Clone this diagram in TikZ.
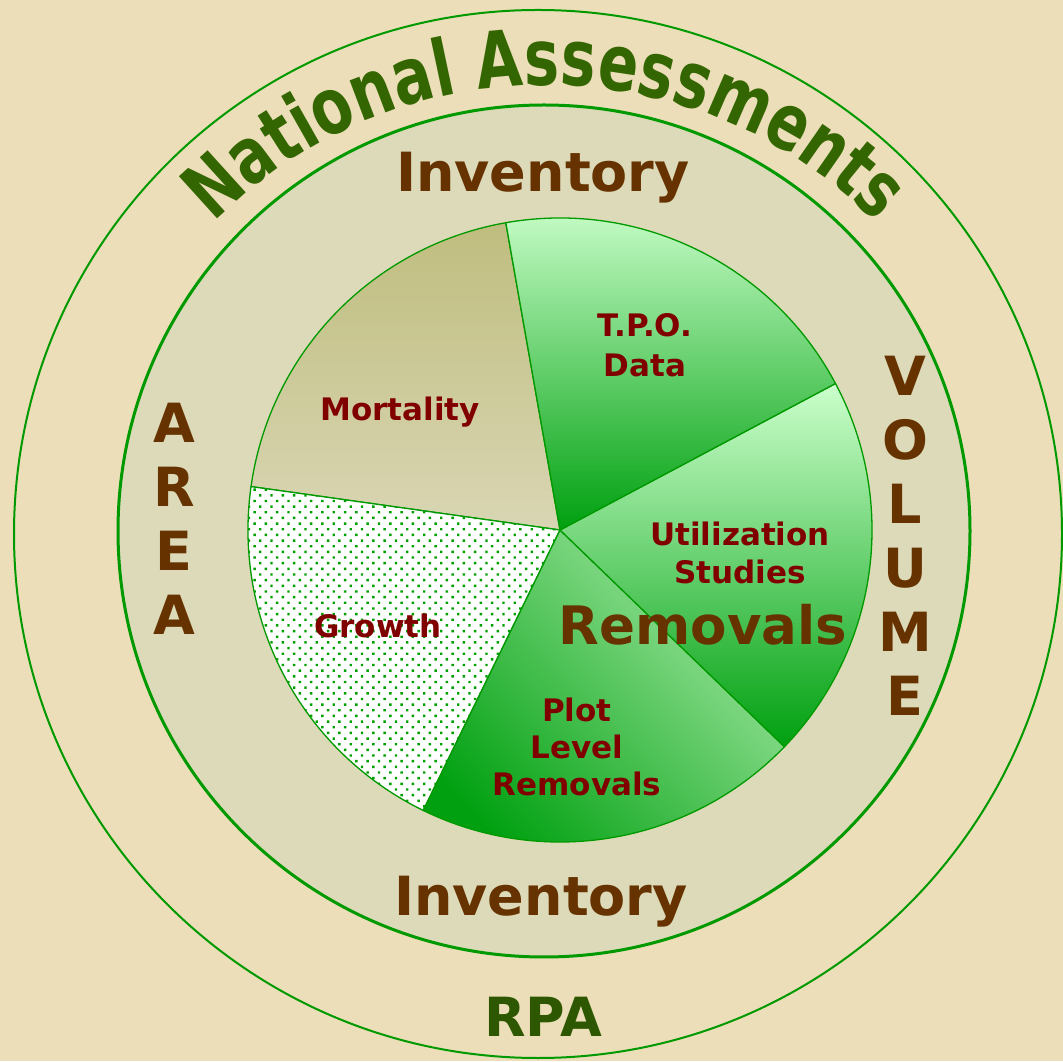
\documentclass[tikz,border=0pt]{standalone}
\usepackage{fontspec}
\setmainfont{DejaVu Sans}
\newfontfamily\nafont[FakeStretch=0.76]{DejaVu Sans}
\usetikzlibrary{patterns.meta,decorations.text}
\definecolor{bgtan}{HTML}{ECDEB9}
\definecolor{ringfill}{HTML}{DCDAB8}
\definecolor{linegreen}{HTML}{009900}
\definecolor{nagreen}{HTML}{336600}
\definecolor{rpagreen}{HTML}{2D5700}
\definecolor{invbrown}{HTML}{663300}
\definecolor{labred}{HTML}{800000}
\definecolor{lightg}{HTML}{CCFFCC}
\definecolor{darkg}{HTML}{00A010}
\definecolor{midg}{HTML}{A0E6A0}
\definecolor{morttop}{HTML}{BFBD7E}
\definecolor{mortbot}{HTML}{D9D6B4}
\definecolor{dotg}{HTML}{00A000}
\begin{document}
\begin{tikzpicture}[x=1pt,y=1pt,
  slice/.style={draw=linegreen, line width=1.3pt, line join=round},
  biglab/.style={font=\bfseries\fontsize{54}{60}\selectfont, text=invbrown, inner sep=0pt, anchor=base},
  sidelet/.style={font=\bfseries\fontsize{54}{60}\selectfont, text=invbrown, inner sep=0pt, anchor=base},
  slab/.style={font=\bfseries\fontsize{31}{39}\selectfont, text=labred, align=center, inner sep=0pt}]
\fill[bgtan] (0,0) rectangle (1063,1061);
\useasboundingbox (0,0) rectangle (1063,1061);
% rings
\coordinate (oc) at (538,527);
\draw[linegreen, line width=2pt] (oc) circle[radius=524];
\coordinate (ic) at (544,530);
\filldraw[fill=ringfill, draw=linegreen, line width=3pt] (ic) circle[radius=426];
% pie
\coordinate (pc) at (560,531);
\path[slice, top color=morttop, bottom color=mortbot]
  (pc) -- ++(100:312) arc[start angle=100,end angle=172,radius=312] -- cycle;
\path[slice, preaction={fill=white}, pattern={Dots[radius=1.7pt,distance=8pt,angle=45]}, pattern color=dotg]
  (pc) -- ++(172:312) arc[start angle=172,end angle=244,radius=312] -- cycle;
\path[slice, top color=midg, bottom color=darkg, shading angle=-45]
  (pc) -- ++(244:312) arc[start angle=244,end angle=316,radius=312] -- cycle;
\path[slice, top color=lightg, bottom color=darkg]
  (pc) -- ++(316:312) arc[start angle=316,end angle=388,radius=312] -- cycle;
\path[slice, top color=lightg, bottom color=darkg]
  (pc) -- ++(28:312) arc[start angle=28,end angle=100,radius=312] -- cycle;
% curved title
\coordinate (tc) at (545,509);
\path[decorate, decoration={text along path, text align=center,
  text={|\nafont\bfseries\fontsize{78}{90}\selectfont\color{nagreen}|National Assessments}}]
  (tc) ++(137:467) arc[start angle=137,end angle=43,radius=467];
% ring texts
\node[biglab] (invtop) at (543,869) {Inventory};
\node[biglab] (invbot) at (541,146) {Inventory};
\node[biglab, text=rpagreen] (rpa) at (543,25) {RPA};
\foreach \l [count=\i from 0] in {A,R,E,A}
  \node[sidelet] (area\i) at (174,{618-64*\i}) {\l};
\foreach \l [count=\i from 0] in {V,O,L,U,M,E}
  \node[sidelet] (vol\i) at (905,{665-64*\i}) {\l};
% slice labels
\node[slab, anchor=north, font=\bfseries\fontsize{31}{40}\selectfont] (tpo) at (645,748) {T.P.O.\\Data};
\node[slab, anchor=base] (mort) at (400,640) {Mortality};
\node[slab, anchor=north, font=\bfseries\fontsize{31}{38}\selectfont] (util) at (740,539) {Utilization\\Studies};
\node[slab, anchor=base] (growth) at (378,423) {Growth};
\node[slab, anchor=north, font=\bfseries\fontsize{31}{37}\selectfont] (plot) at (577,363) {Plot\\Level\\Removals};
\node[biglab, font=\bfseries\fontsize{53}{60}\selectfont] (remov) at (703,416) {Removals};
\end{tikzpicture}
\end{document}
